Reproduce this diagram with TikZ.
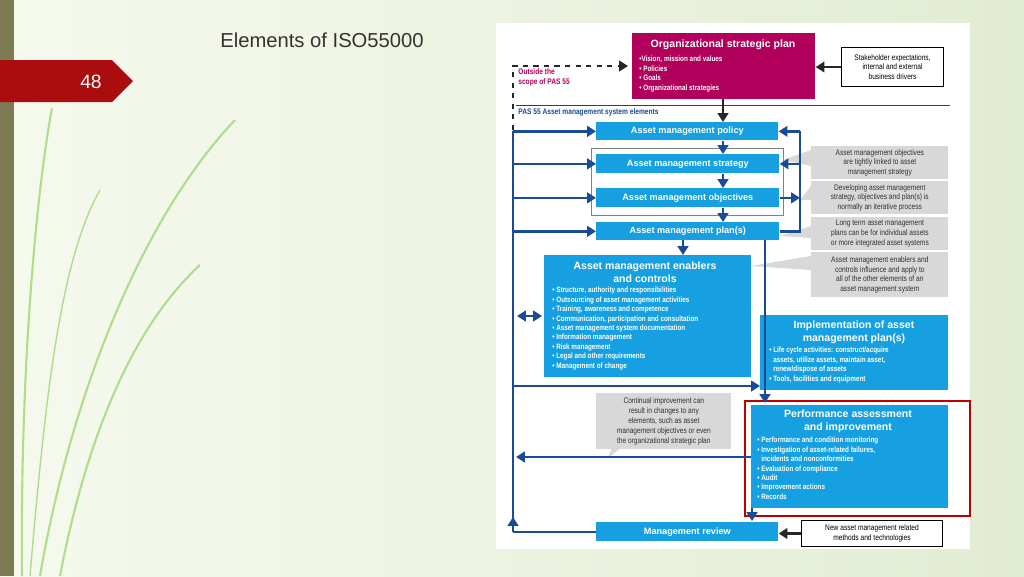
\documentclass[tikz,border=0pt]{standalone}
\usepackage{fontspec}
\setmainfont{Liberation Sans}
\newfontfamily\cnd[FakeStretch=0.82]{Liberation Sans}
\usetikzlibrary{arrows.meta,calc}
\definecolor{bbl}{RGB}{22,160,225}
\definecolor{dbl}{RGB}{25,75,150}
\definecolor{mag}{RGB}{176,0,92}
\definecolor{ngr}{RGB}{216,216,216}
\definecolor{tgr}{RGB}{50,50,50}
\definecolor{bgl}{RGB}{246,249,238}
\definecolor{bgr}{RGB}{226,236,210}
\tikzset{
 bbox/.style={fill=bbl,draw=none,anchor=north west,inner sep=0pt},
 lbl/.style={text=white,font=\bfseries\fontsize{5.2}{6}\selectfont},
 ttl/.style={text=white,font=\bfseries\fontsize{6}{7.2}\selectfont,align=center},
 bul/.style={text=white,font=\cnd\bfseries\fontsize{4.4}{5.35}\selectfont,align=left,anchor=north west,inner sep=0pt},
 note/.style={fill=ngr,anchor=north west,inner sep=0pt},
 ntx/.style={text=tgr,font=\cnd\fontsize{4.6}{5.6}\selectfont,align=center},
 wbox/.style={draw=black,line width=0.6pt,fill=white,anchor=north west,inner sep=0pt},
 barr/.style={draw=dbl,line width=1.4pt,-{Triangle[length=5pt,width=6pt]}},
 bln/.style={draw=dbl,line width=1.4pt},
 karr/.style={draw=black!85,line width=1.6pt,-{Triangle[length=5pt,width=6pt]}},
 ptr/.style={fill=ngr,draw=none}
}
\begin{document}
\begin{tikzpicture}[x=0.02cm,y=-0.02cm]
\useasboundingbox (0,0) rectangle (1024,576);
\shade[left color=bgl,right color=bgr] (0,0) rectangle (1024,576);
\fill[olive!45!black!75] (0,0) rectangle (14,576);
\begin{scope}[draw=green!40!olive!45,line width=1.2pt]
\draw (22,576) .. controls (20,380) and (35,200) .. (52,108);
\draw (40,576) .. controls (70,400) and (140,220) .. (235,120);
\draw (60,576) .. controls (90,420) and (140,320) .. (200,265);
\draw[line width=0.8pt] (30,576) .. controls (45,400) and (60,260) .. (100,190);
\end{scope}
\fill[red!65!black!95] (0,60) -- (112,60) -- (133,81) -- (112,102) -- (0,102) -- cycle;
\node[text=white,font=\fontsize{11}{13}\selectfont] (num) at (91,82) {48};
\node[font=\fontsize{11.5}{14}\selectfont,text=black!80] (title) at (322,40) {Elements of ISO55000};
% panel
\fill[white] (496,23) rectangle (970,549);
% magenta
\node[fill=mag,anchor=north west,minimum width=3.66cm,minimum height=1.32cm,inner sep=0pt] (osp) at (632,33) {};
\node[text=white,font=\bfseries\fontsize{6}{7}\selectfont] (ospt) at (723,45) {Organizational strategic plan};
\node[bul] (ospb) at (639,56) {\textbullet Vision, mission and values\\ \textbullet\ Policies\\ \textbullet\ Goals\\ \textbullet\ Organizational strategies};
\node[wbox,minimum width=2.04cm,minimum height=0.78cm] (stk) at (841,47) {};
\node[ntx,text=black] at (stk.center) {Stakeholder expectations,\\internal and external\\business drivers};
\draw[karr] (stk.west) -- (osp.east|-stk.west);
\node[text=mag,font=\cnd\bfseries\fontsize{4.6}{5.6}\selectfont,align=left,anchor=north west,inner sep=0pt] (out) at (518,68) {Outside the\\scope of PAS 55};
\coordinate (dsb) at (513,130);
\draw[karr,dashed,line width=1.1pt] (dsb) |- (628,66);
\draw[mag,line width=0.5pt] (516,105) -- (950,105);
\node[text=dbl,font=\cnd\bfseries\fontsize{4.6}{5.6}\selectfont,anchor=west,inner sep=0pt] (pas) at (518,112) {PAS 55 Asset management system elements};
% main boxes
\node[bbox,minimum width=3.64cm,minimum height=0.36cm] (pol) at (596,122) {};
\node[lbl] at (pol.center) {Asset management policy};
\draw[black!50,line width=0.5pt] (591,148) rectangle (783,215);
\node[bbox,minimum width=3.66cm,minimum height=0.38cm] (str) at (596,154) {};
\node[lbl] at (str.center) {Asset management strategy};
\node[bbox,minimum width=3.66cm,minimum height=0.38cm] (obj) at (596,188) {};
\node[lbl] at (obj.center) {Asset management objectives};
\node[bbox,minimum width=3.66cm,minimum height=0.36cm] (pln) at (596,222) {};
\node[lbl] at (pln.center) {Asset management plan(s)};
\coordinate (ospb2) at (723,99);
\draw[karr] (ospb2) -- (pol.north-|ospb2);
\draw[barr] (pol.south-|ospb2) -- (str.north-|ospb2);
\draw[barr] (str.south-|ospb2) -- (obj.north-|ospb2);
\draw[barr] (obj.south-|ospb2) -- (pln.north-|ospb2);
% enablers
\node[bbox,minimum width=4.14cm,minimum height=2.44cm] (enb) at (544,255) {};
\node[ttl] at (645,272) {Asset management enablers\\and controls};
\node[bul] at (552,287) {\textbullet\ Structure, authority and responsibilities\\ \textbullet\ Outsourcing of asset management activities\\ \textbullet\ Training, awareness and competence\\ \textbullet\ Communication, participation and consultation\\ \textbullet\ Asset management system documentation\\ \textbullet\ Information management\\ \textbullet\ Risk management\\ \textbullet\ Legal and other requirements\\ \textbullet\ Management of change};
\coordinate (enbx) at (683,240);
\draw[barr] (enbx) -- (enb.north-|enbx);
% implementation
\node[bbox,minimum width=3.76cm,minimum height=1.5cm] (imp) at (760,315) {};
\node[ttl] at (854,332) {Implementation of asset\\management plan(s)};
\node[bul] at (769,347) {\textbullet\ Life cycle activities: construct/acquire\\ \phantom{\textbullet\ }assets, utilize assets, maintain asset,\\ \phantom{\textbullet\ }renew/dispose of assets\\ \textbullet\ Tools, facilities and equipment};
% performance
\draw[red!75!black,line width=1.3pt] (745,401) rectangle (970,516);
\node[bbox,minimum width=3.94cm,minimum height=2.06cm] (prf) at (751,405) {};
\node[ttl] at (848,421) {Performance assessment\\and improvement};
\node[bul] at (757,437) {\textbullet\ Performance and condition monitoring\\ \textbullet\ Investigation of asset-related failures,\\ \phantom{\textbullet\ }incidents and nonconformities\\ \textbullet\ Evaluation of compliance\\ \textbullet\ Audit\\ \textbullet\ Improvement actions\\ \textbullet\ Records};
% review
\node[bbox,minimum width=3.64cm,minimum height=0.38cm] (rev) at (596,522) {};
\node[lbl] at (rev.center) {Management review};
\node[wbox,minimum width=2.82cm,minimum height=0.52cm] (nam) at (801,520) {};
\node[ntx,text=black] at (nam.center) {New asset management related\\methods and technologies};
\draw[karr] (nam.west) -- (rev.east|-nam.west);
% notes
\fill[ptr] (783,160) -- (811,150) -- (811,166) -- cycle;
\fill[ptr] (800,200) -- (811,186) -- (811,200) -- cycle;
\fill[ptr] (780,236) -- (811,226) -- (811,238) -- cycle;
\fill[ptr] (751,266) -- (811,256) -- (811,270) -- cycle;
\fill[ptr] (608,458) -- (612,447) -- (622,447) -- cycle;
\node[note,minimum width=2.74cm,minimum height=0.66cm] (n1) at (811,146) {};
\node[ntx] at (n1.center) {Asset management objectives\\are tightly linked to asset\\management strategy};
\node[note,minimum width=2.74cm,minimum height=0.66cm] (n2) at (811,181) {};
\node[ntx] at (n2.center) {Developing asset management\\strategy, objectives and plan(s) is\\normally an iterative process};
\node[note,minimum width=2.74cm,minimum height=0.66cm] (n3) at (811,217) {};
\node[ntx] at (n3.center) {Long term asset management\\plans can be for individual assets\\or more integrated asset systems};
\node[note,minimum width=2.74cm,minimum height=0.9cm] (n4) at (811,252) {};
\node[ntx] at (n4.center) {Asset management enablers and\\controls influence and apply to\\all of the other elements of an\\asset management system};
\node[note,minimum width=2.7cm,minimum height=1.12cm] (ci) at (596,393) {};
\node[ntx] at (ci.center) {Continual improvement can\\result in changes to any\\elements, such as asset\\management objectives or even\\the organizational strategic plan};
% left loop
\coordinate (LT) at (513,131);
\coordinate (LB) at (513,532);
\draw[bln] (rev.west) -- (rev.west-|LB);
\draw[bln] (rev.west-|LB) -- (513,522);
\draw[barr] (513,528) -- (513,517);
\draw[bln] (513,520) -- (LT);
\draw[barr] (pol.west-|LT) -- (pol.west);
\draw[barr] (str.west-|LT) -- (str.west);
\draw[barr] (obj.west-|LT) -- (obj.west);
\draw[barr] (pln.west-|LT) -- (pln.west);
\draw[barr] (513,386) -- (imp.west|-513,386);
\draw[dbl,line width=1.4pt,{Triangle[length=5pt,width=6pt]}-{Triangle[length=5pt,width=6pt]}] (517,316) -- (542,316);
\draw[barr] (prf.west|-0,457) -- (516,457);
% right loop
\coordinate (RX) at (800,130);
\draw[bln] (pln.east) -- (pln.east-|RX) -- (pol.east-|RX);
\draw[barr] (pol.east-|RX) -- (pol.east);
\draw[barr] (str.east-|RX) -- (str.east);
\draw[barr] (obj.east) -- (obj.east-|RX);
\coordinate (dn) at (765,240);
\draw[barr] (dn) -- (765,403);
\coordinate (dn2) at (752,508);
\draw[barr] (dn2) -- (752,521);
\end{tikzpicture}
\end{document}
